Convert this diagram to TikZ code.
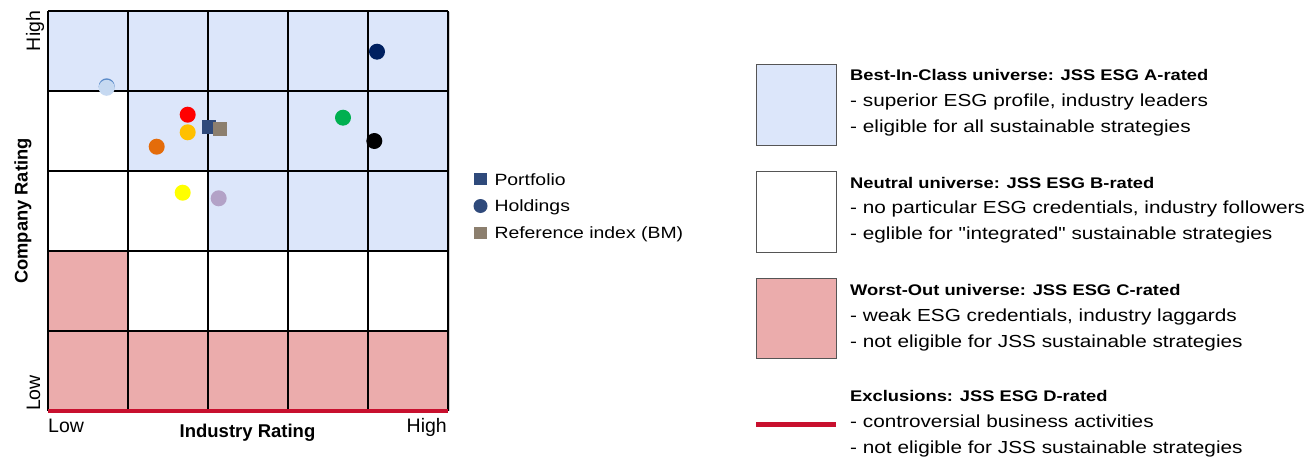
\documentclass[tikz,border=0pt]{standalone}
\usepackage{fontspec}
\setmainfont{Liberation Sans}
\newfontfamily\legfont[FakeStretch=1.19]{Liberation Sans}
\definecolor{cellblue}{HTML}{DCE6FA}
\definecolor{cellred}{HTML}{EBACAC}
\definecolor{exred}{HTML}{C8102E}
\definecolor{pfblue}{HTML}{2F4A7B}
\definecolor{bmgray}{HTML}{8C7F6E}
\definecolor{navy}{HTML}{002060}
\definecolor{dotred}{HTML}{FF0000}
\definecolor{dotamber}{HTML}{FFC000}
\definecolor{dotorange}{HTML}{E46C0A}
\definecolor{dotgreen}{HTML}{00B050}
\definecolor{dotyellow}{HTML}{FFFF00}
\definecolor{dotlilac}{HTML}{B3A2C7}
\definecolor{dotlight}{HTML}{C6D9F1}
\definecolor{dotedge}{HTML}{5B8BC9}
\definecolor{boxedge}{HTML}{555555}
\begin{document}
\begin{tikzpicture}[x=1pt,y=-1pt,
  gridline/.style={line width=1.2pt, black},
  dot/.style={circle, inner sep=0pt, minimum size=16pt, draw=none},
  sq/.style={rectangle, inner sep=0pt, minimum size=14pt, draw=none},
  axlbl/.style={inner sep=0pt, font=\fontsize{19.5}{22}\selectfont},
  axtitle/.style={inner sep=0pt, font=\fontsize{18.5}{22}\selectfont\bfseries},
  midlbl/.style={inner sep=0pt, anchor=base west, font=\legfont\fontsize{16.3}{20}\selectfont},
  legtitle/.style={inner sep=0pt, anchor=base west, font=\legfont\fontsize{15.4}{20}\selectfont\bfseries},
  legline/.style={inner sep=0pt, anchor=base west, font=\legfont\fontsize{17.45}{22}\selectfont},
  legbox/.style={draw=boxedge, line width=1pt}
]
\useasboundingbox (0,0) rectangle (1315,460);

% --- cell fills
\fill[cellblue] (48,11) rectangle (448,91);
\fill[cellblue] (128,91) rectangle (448,171);
\fill[cellblue] (208,171) rectangle (448,251);
\fill[cellred] (48,251) rectangle (128,331);
\fill[cellred] (48,331) rectangle (448,411);
\draw[gray!35, line width=1.5pt] (449.2,12) -- (449.2,411);

% --- grid lines
\foreach \i in {0,...,5} {
  \draw[gridline] (48+80*\i,11) -- (48+80*\i,411);
  \draw[gridline] (48,11+80*\i) -- (448,11+80*\i);
}
\coordinate (exl) at (48,411.2);
\coordinate (exr) at (448,411.2);
\draw[exred, line width=4.3pt] (exl) -- (exr);

% --- axis labels
\node[axlbl, rotate=90, anchor=base] (hiY) at (40,31) {High};
\node[axlbl, rotate=90, anchor=base] (loY) at (40,393) {Low};
\node[axtitle, rotate=90, anchor=base, font=\fontsize{18.3}{22}\selectfont\bfseries] (cr) at (27.5,211) {Company Rating};
\node[axlbl, anchor=base west] (loX) at (48,432.5) {Low};
\node[axlbl, anchor=base east] (hiX) at (447,432.5) {High};
\node[axtitle, anchor=base] (ir) at (247.5,437.3) {Industry Rating};

% --- holdings
\node[dot, fill=dotedge] (h0e) at (106.7,86.3) {};
\node[dot, fill=dotlight] (h0) at (106.7,87.8) {};
\node[dot, fill=navy] (h1) at (377,51.7) {};
\node[dot, fill=dotred] (h2) at (187.7,114.7) {};
\node[dot, fill=dotamber] (h3) at (187.7,132.3) {};
\node[dot, fill=dotorange] (h4) at (156.7,146.7) {};
\node[dot, fill=dotgreen] (h5) at (343,117.7) {};
\node[dot, fill=black] (h6) at (374.3,141) {};
\node[dot, fill=dotyellow] (h7) at (182.7,192.7) {};
\node[dot, fill=dotlilac] (h8) at (218.7,198.3) {};
\node[sq, fill=pfblue] (pf) at (209,127) {};
\node[sq, fill=bmgray] (bm) at (220,129) {};

% --- middle legend
\node[sq, fill=pfblue, minimum size=12.5pt] (lpf) at (480.5,179) {};
\node[midlbl] (tpf) at (494.3,185) {Portfolio};
\node[circle, inner sep=0pt, minimum size=14pt, fill=pfblue] (lho) at (480.5,206) {};
\node[midlbl] (tho) at (494.3,211.7) {Holdings};
\node[sq, fill=bmgray, minimum size=12.5pt] (lbm) at (480.5,232.8) {};
\node[midlbl] (tbm) at (494.3,238.3) {Reference index (BM)};

% --- right legend
\node[legbox, fill=cellblue, minimum width=80pt, minimum height=81pt, anchor=north west, inner sep=0pt] (bA) at (756,64) {};
\node[legtitle] (tA) at (850,81) {Best-In-Class universe: JSS ESG A-rated};
\node[legline] (tA1) at (850,106.7) {- superior ESG profile, industry leaders};
\node[legline] (tA2) at (850,132.7) {- eligible for all sustainable strategies};

\node[legbox, fill=white, minimum width=80pt, minimum height=81pt, anchor=north west, inner sep=0pt] (bB) at (756,171) {};
\node[legtitle] (tB) at (850,188) {Neutral universe: JSS ESG B-rated};
\node[legline] (tB1) at (850,213.7) {- no particular ESG credentials, industry followers};
\node[legline] (tB2) at (850,239.7) {- eglible for "integrated" sustainable strategies};

\node[legbox, fill=cellred, minimum width=80pt, minimum height=80pt, anchor=north west, inner sep=0pt] (bC) at (756,278) {};
\node[legtitle] (tC) at (850,295.5) {Worst-Out universe: JSS ESG C-rated};
\node[legline] (tC1) at (850,321.5) {- weak ESG credentials, industry laggards};
\node[legline] (tC2) at (850,347.5) {- not eligible for JSS sustainable strategies};

\coordinate (dl) at (756,424.5);
\coordinate (dr) at (836,424.5);
\draw[exred, line width=5.5pt] (dl) -- (dr);
\node[legtitle] (tD) at (850,401.7) {Exclusions: JSS ESG D-rated};
\node[legline] (tD1) at (850,427.5) {- controversial business activities};
\node[legline] (tD2) at (850,453.5) {- not eligible for JSS sustainable strategies};
\end{tikzpicture}
\end{document}
